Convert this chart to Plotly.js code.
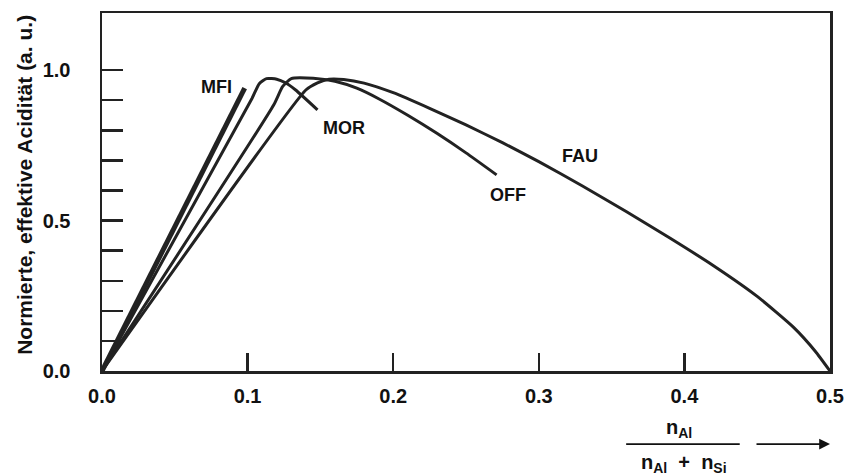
<!DOCTYPE html>
<html>
<head>
<meta charset="utf-8">
<script src="https://cdn.plot.ly/plotly-3.0.1.min.js"></script>
<style>html,body{margin:0;padding:0;background:#fff;}#chart{width:845px;height:475px;}</style>
</head>
<body>
<div id="chart"></div>
<script>
// ---- data ----
const xTickVals = [0, 0.1, 0.2, 0.3, 0.4, 0.5];
const xTickText = ['0.0', '0.1', '0.2', '0.3', '0.4', '0.5'];
const yTickVals = [0, 0.1, 0.2, 0.3, 0.4, 0.5, 0.6, 0.7, 0.8, 0.9, 1.0];
const yTickText = ['0.0', '', '', '', '', '0.5', '', '', '', '', '1.0'];

const seriesNames = ['MFI', 'MOR', 'OFF', 'FAU'];
const mfiX = [0, 0.098];
const mfiY = [0, 0.94];
const morX = [0, 0.103, 0.108, 0.113, 0.120, 0.126, 0.133, 0.148];
const morY = [0, 0.906, 0.955, 0.972, 0.970, 0.958, 0.934, 0.868];
const offX = [0, 0.118, 0.124, 0.130, 0.145, 0.160, 0.175, 0.190, 0.210, 0.230, 0.250, 0.271];
const offY = [0, 0.885, 0.945, 0.972, 0.973, 0.963, 0.940, 0.905, 0.850, 0.790, 0.725, 0.652];
const fauX = [0, 0.140, 0.148, 0.156, 0.166, 0.180, 0.200, 0.225, 0.250, 0.275, 0.300, 0.330, 0.360, 0.390, 0.420, 0.450, 0.475, 0.490, 0.500];
const fauY = [0, 0.934, 0.958, 0.970, 0.969, 0.957, 0.925, 0.873, 0.818, 0.759, 0.696, 0.615, 0.530, 0.442, 0.350, 0.248, 0.145, 0.065, 0.0];

const yTitle = 'Normierte, effektive Acidität (a. u.)';

// ---- chart ----
const ink = '#222222';
const FONT = 'Liberation Sans, Arial, sans-serif';
function tr(x, y, w) {
  return {x: x, y: y, mode: 'lines', line: {color: ink, width: w, shape: 'spline', smoothing: 0.5},
          hoverinfo: 'skip', showlegend: false, cliponaxis: false};
}
const data = [tr(mfiX, mfiY, 5), tr(morX, morY, 3), tr(offX, offY, 3), tr(fauX, fauY, 3)];

const lbl = (t, x, y) => ({text: '<b>' + t + '</b>', x: x, y: y, xref: 'x', yref: 'y', showarrow: false,
  font: {family: FONT, size: 18, color: '#111'}});

const layout = {
  width: 845, height: 475,
  margin: {l: 102, r: 15, t: 13, b: 104},
  paper_bgcolor: '#fff', plot_bgcolor: '#fff',
  font: {family: FONT, color: '#111'},
  xaxis: {
    range: [0, 0.5], tickvals: xTickVals, ticktext: xTickText,
    showgrid: false, zeroline: false, showline: true, mirror: true, linecolor: ink, linewidth: 2.5,
    ticks: 'inside', ticklen: 18, tickwidth: 2.5, tickcolor: ink,
    tickfont: {family: FONT, size: 20, color: '#111', weight: 'bold'},
    ticklabelstandoff: 5, ticklabeloverflow: 'allow'
  },
  yaxis: {
    range: [0, 1.19], tickvals: yTickVals, ticktext: yTickText,
    showgrid: false, zeroline: false, showline: true, mirror: true, linecolor: ink, linewidth: 2.5,
    ticks: 'inside', ticklen: 21, tickwidth: 2.5, tickcolor: ink,
    tickfont: {family: FONT, size: 20, color: '#111', weight: 'bold'},
    ticklabelstandoff: 25, ticklabeloverflow: 'allow'
  },
  annotations: [
    {text: '<b>' + yTitle + '</b>', textangle: -90, xref: 'paper', yref: 'paper', x: 0, xshift: -77,
     y: 0.52, xanchor: 'center', yanchor: 'middle', showarrow: false,
     font: {family: FONT, size: 21, color: '#111'}},
    lbl(seriesNames[0], 0.0788, 0.944),
    lbl(seriesNames[1], 0.166, 0.807),
    lbl(seriesNames[2], 0.279, 0.585),
    lbl(seriesNames[3], 0.328, 0.714),
    {text: '<b>n<sub>Al</sub></b>', x: 0.396, y: -0.2, xref: 'x', yref: 'paper', showarrow: false,
     font: {family: FONT, size: 20, color: '#111'}},
    {text: '<b>n<sub>Al</sub>  +  n<sub>Si</sub></b>', x: 0.4, y: -0.298, xref: 'x', yref: 'paper', showarrow: false,
     font: {family: FONT, size: 20, color: '#111'}},
    {text: '', x: 0.5, y: -0.204, xref: 'x', yref: 'paper', showarrow: true, axref: 'pixel', ayref: 'pixel',
     ax: -75, ay: 0, arrowhead: 2, arrowsize: 1.2, arrowwidth: 1.8, arrowcolor: '#111'}
  ],
  shapes: [
    {type: 'line', xref: 'x', yref: 'paper', x0: 0.36, x1: 0.438, y0: -0.204, y1: -0.204,
     line: {color: '#111', width: 1.8}}
  ]
};

Plotly.newPlot('chart', data, layout, {staticPlot: true, displayModeBar: false});
</script>
</body>
</html>
